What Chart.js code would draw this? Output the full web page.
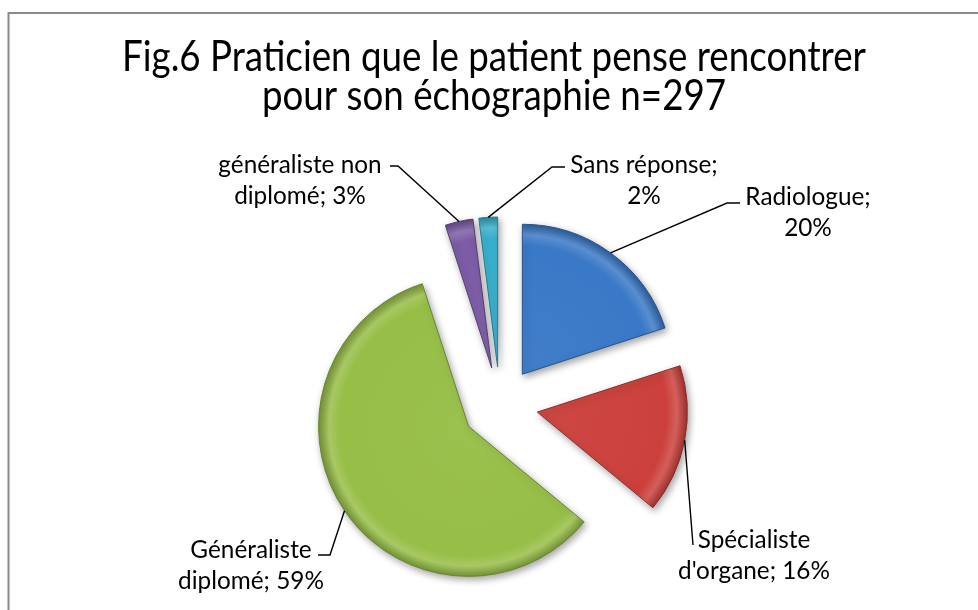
<!DOCTYPE html>
<html><head><meta charset="utf-8">
<script src="https://cdn.jsdelivr.net/npm/chart.js@4.4.1/dist/chart.umd.min.js"></script>
<style>html,body{margin:0;padding:0;background:#fff;overflow:hidden}#wrap{width:978px;height:610px}</style>
</head><body><div id="wrap"><canvas id="c" width="978" height="610"></canvas></div>
<script>
// ---- data ----
const categories = ["Radiologue", "Spécialiste d'organe", "Généraliste diplomé", "généraliste non diplomé", "Sans réponse"];
const values = [20, 16, 59, 3, 2];
const firstLineWords = [1, 1, 1, 2, 2];
const titleLines = ["Fig.6 Praticien que le patient pense rencontrer", "pour son échographie n=297"];
const colors = ["#3a79c7", "#cb403c", "#97be47", "#7c5ca6", "#38b0cd"];

// ---- layout (relative to pie centre) ----
const RADIUS = 150, EXPLODE = 38, LINE_H = 31;
const labelPos = [[308, -208], [254, 135], [-249, 145], [-200, -240], [144, -240]];
const leaderElbow = [[227, -202], [193, 140], [-170, 150], [-102, -239], [52, -238]];
const leaderEnd = [[240, -202], [193, 140], [-182, 150], [-110, -239], [65, -238]];

const FAMILY = "Lato, 'Open Sans', sans-serif";
const TITLE_SQUEEZE = 0.86;
function fitSize(text, target) {
  const c = document.createElement('canvas').getContext('2d');
  c.font = "40px " + FAMILY;
  return 40 * target / c.measureText(text).width;
}
const titleSize = fitSize(titleLines[0], 744) / TITLE_SQUEEZE;
const labelSize = fitSize("d'organe; 16%", 152);

const total = values.reduce((a, b) => a + b, 0);
function midAngle(i) {
  let cum = 0; for (let j = 0; j < i; j++) cum += values[j];
  return -Math.PI / 2 + (cum + values[i] / 2) / total * Math.PI * 2;
}
function shade(hex, p) {
  const n = parseInt(hex.slice(1), 16);
  let r = n >> 16, g = (n >> 8) & 255, b = n & 255;
  const f = v => Math.round(p >= 0 ? v + (255 - v) * p : v * (1 + p));
  return `rgb(${f(r)},${f(g)},${f(b)})`;
}
function centre(chart) {
  const a = chart.chartArea;
  return [(a.left + a.right) / 2, (a.top + a.bottom) / 2];
}

const framePlugin = {
  id: 'frame',
  beforeDraw(chart) {
    const ctx = chart.ctx;
    ctx.save();
    ctx.fillStyle = '#fff'; ctx.fillRect(0, 0, chart.width, chart.height);
    ctx.strokeStyle = '#8a8a8a'; ctx.lineWidth = 2;
    ctx.beginPath(); ctx.moveTo(8.5, chart.height + 5); ctx.lineTo(8.5, 13); ctx.lineTo(chart.width + 5, 13); ctx.stroke();
    ctx.fillStyle = '#000'; ctx.textAlign = 'center'; ctx.textBaseline = 'alphabetic';
    ctx.font = titleSize.toFixed(2) + "px " + FAMILY;
    ctx.translate(494, 0);
    ctx.scale(TITLE_SQUEEZE, 1);
    ctx.fillText(titleLines[0], 0, 71);
    ctx.fillText(titleLines[1], 0, 110);
    ctx.restore();
  }
};

const explodePlugin = {
  id: 'explode',
  beforeDatasetsDraw(chart) {
    const [cx, cy] = centre(chart);
    chart.getDatasetMeta(0).data.forEach(el => {
      const mid = (el.startAngle + el.endAngle) / 2;
      el.x = cx + EXPLODE * Math.cos(mid);
      el.y = cy + EXPLODE * Math.sin(mid);
    });
    const ctx = chart.ctx;
    ctx.save();
    ctx.shadowColor = 'rgba(0,0,0,0.35)'; ctx.shadowBlur = 7; ctx.shadowOffsetX = 2; ctx.shadowOffsetY = 3;
  },
  afterDatasetsDraw(chart) {
    const ctx = chart.ctx;
    ctx.restore();
    const [cx, cy] = centre(chart);
    const meta = chart.getDatasetMeta(0);
    ctx.save();
    ctx.strokeStyle = '#000'; ctx.lineWidth = 1.4;
    ctx.fillStyle = '#000';
    ctx.font = labelSize.toFixed(2) + "px " + FAMILY;
    ctx.textAlign = 'center'; ctx.textBaseline = 'middle';
    meta.data.forEach((el, i) => {
      const mid = (el.startAngle + el.endAngle) / 2;
      const sx = el.x + RADIUS * Math.cos(mid), sy = el.y + RADIUS * Math.sin(mid);
      ctx.beginPath();
      ctx.moveTo(sx, sy);
      ctx.lineTo(cx + leaderElbow[i][0], cy + leaderElbow[i][1]);
      ctx.lineTo(cx + leaderEnd[i][0], cy + leaderEnd[i][1]);
      ctx.stroke();
      const words = (categories[i] + "; " + values[i] + "%").split(" ");
      const l1 = words.slice(0, firstLineWords[i]).join(" ");
      const l2 = words.slice(firstLineWords[i]).join(" ");
      ctx.fillText(l1, cx + labelPos[i][0], cy + labelPos[i][1]);
      ctx.fillText(l2, cx + labelPos[i][0], cy + labelPos[i][1] + LINE_H);
    });
    ctx.restore();
  }
};

new Chart(document.getElementById('c'), {
  type: 'pie',
  data: {
    labels: categories,
    datasets: [{
      data: values,
      radius: RADIUS,
      borderWidth: 1,
      borderColor: colors.map(c => shade(c, -0.3)),
      backgroundColor: (ctx) => {
        const chart = ctx.chart, i = ctx.dataIndex, base = colors[i];
        if (!chart.chartArea) return base;
        const [cx, cy] = centre(chart);
        const m = midAngle(i);
        const x = cx + EXPLODE * Math.cos(m), y = cy + EXPLODE * Math.sin(m);
        const g = chart.ctx.createRadialGradient(x, y, 0, x, y, RADIUS);
        g.addColorStop(0, shade(base, 0.04));
        g.addColorStop(0.86, base);
        g.addColorStop(0.93, shade(base, 0.16));
        g.addColorStop(1, shade(base, -0.22));
        return g;
      }
    }]
  },
  options: {
    responsive: false,
    animation: false,
    events: [],
    layout: { padding: { top: 200, bottom: 0, left: 22, right: 0 } },
    plugins: { legend: { display: false }, tooltip: { enabled: false }, title: { display: false } }
  },
  plugins: [framePlugin, explodePlugin]
});
</script>
</body></html>
